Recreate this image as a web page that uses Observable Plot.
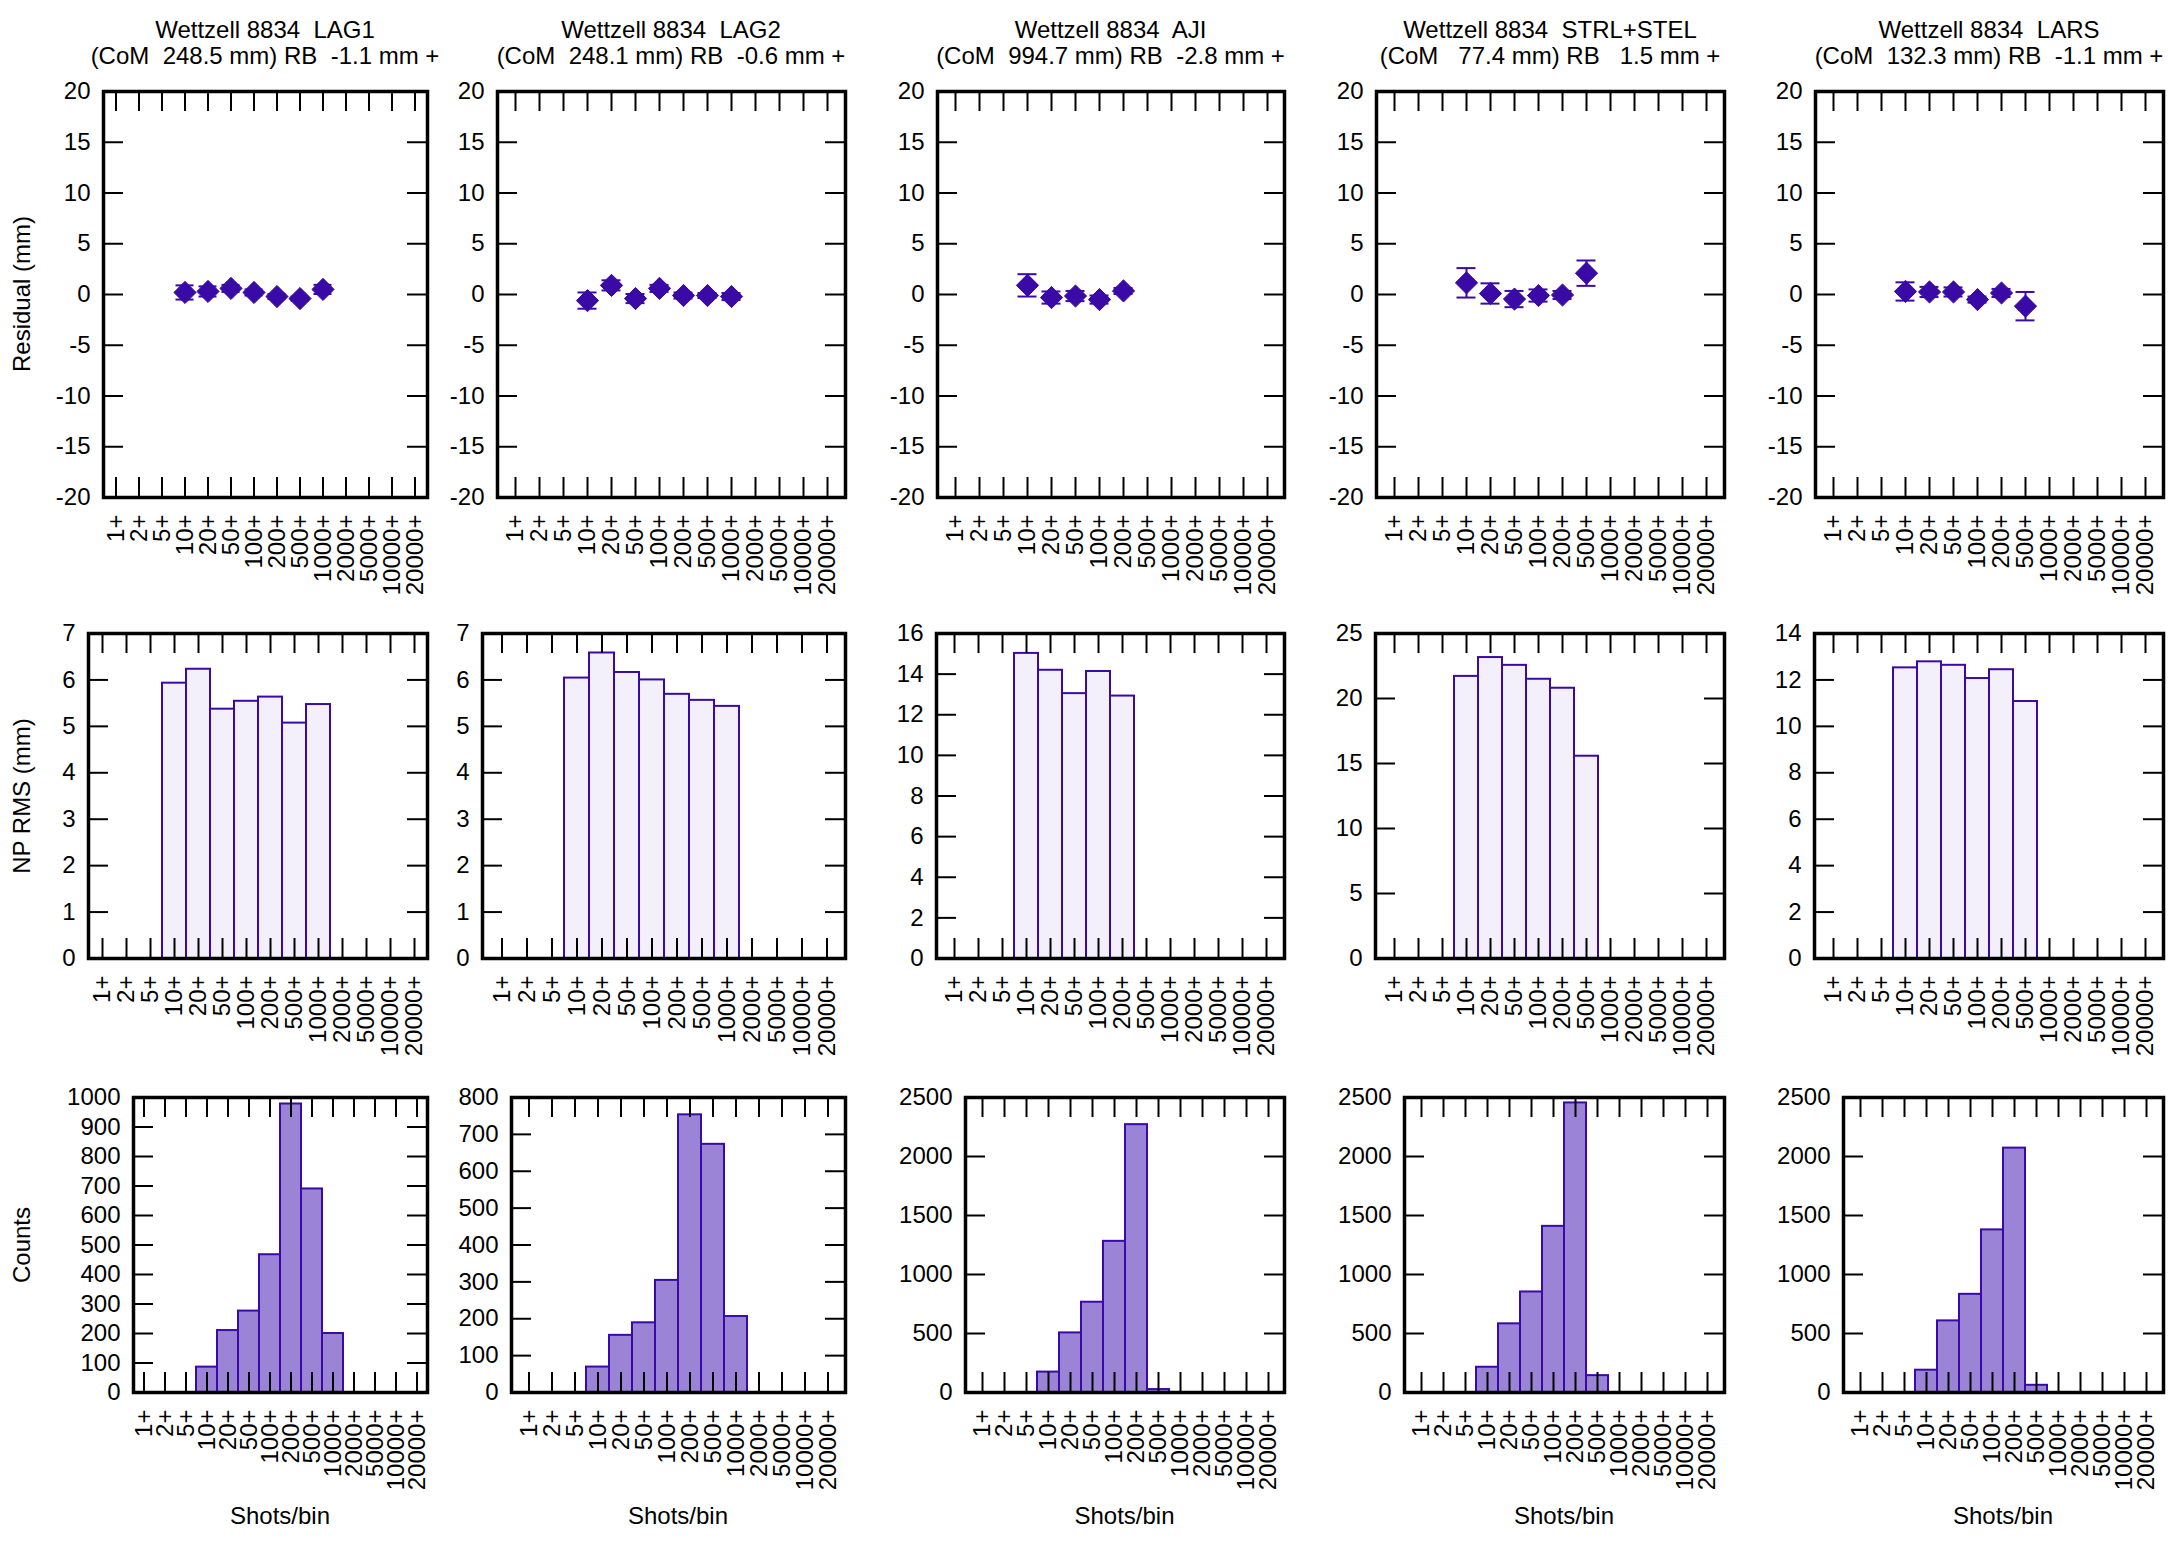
<!DOCTYPE html>
<html><head><meta charset="utf-8">
<script src="https://cdn.jsdelivr.net/npm/d3@7"></script>
<script src="https://cdn.jsdelivr.net/npm/@observablehq/plot@0.6"></script>
<style>
body{margin:0;background:#fff;}
#root{position:relative;width:2168px;height:1545px;overflow:hidden;background:#fff;font-family:"Liberation Sans",Arial,sans-serif;}
.txt{position:absolute;white-space:pre;font-size:24px;color:#000;line-height:1;z-index:5;}
svg{position:absolute;overflow:visible;}
</style></head><body><div id="root"></div><script>
// ---------- data ----------
const bins = ["1+","2+","5+","10+","20+","50+","100+","200+","500+","1000+","2000+","5000+","10000+","20000+"];
const stations = ["LAG1","LAG2","AJI","STRL+STEL","LARS"];
const comMM = [248.5, 248.1, 994.7, 77.4, 132.3];
const rangeBiasMM = [-1.1, -0.6, -2.8, 1.5, -1.1];

// residual (mm) and its error, for bins starting at "10+"
const residualLAG1 = [0.2, 0.3, 0.6, 0.2, -0.2, -0.4, 0.5];
const errorLAG1    = [0.7, 0.5, 0.35, 0.3, 0.25, 0.2, 0.45];
const residualLAG2 = [-0.6, 0.9, -0.4, 0.6, -0.1, -0.1, -0.2];
const errorLAG2    = [0.8, 0.5, 0.45, 0.35, 0.3, 0.25, 0.35];
const residualAJI  = [0.9, -0.3, -0.15, -0.5, 0.35];
const errorAJI     = [1.1, 0.6, 0.5, 0.4, 0.3];
const residualSTRL = [1.15, 0.1, -0.45, -0.1, -0.05, 2.1];
const errorSTRL    = [1.45, 1.0, 0.8, 0.6, 0.4, 1.25];
const residualLARS = [0.3, 0.25, 0.25, -0.5, 0.15, -1.15];
const errorLARS    = [0.9, 0.5, 0.45, 0.3, 0.4, 1.4];

// normal point RMS (mm), bins starting at "10+"
const rmsLAG1 = [5.93, 6.23, 5.37, 5.54, 5.63, 5.07, 5.47];
const rmsLAG2 = [6.04, 6.58, 6.16, 6.0, 5.69, 5.56, 5.43];
const rmsAJI  = [15.02, 14.19, 13.04, 14.13, 12.92];
const rmsSTRL = [21.7, 23.15, 22.55, 21.48, 20.79, 15.56];
const rmsLARS = [12.52, 12.78, 12.63, 12.06, 12.44, 11.07];

// counts per bin, bins starting at "10+"
const countLAG1 = [86, 210, 276, 467, 978, 690, 200];
const countLAG2 = [69, 155, 189, 304, 753, 673, 206];
const countAJI  = [173, 505, 765, 1281, 2270, 25];
const countSTRL = [214, 582, 852, 1408, 2454, 143];
const countLARS = [189, 607, 832, 1378, 2071, 61];

// y axis tick values
const residualTicks = [-20, -15, -10, -5, 0, 5, 10, 15, 20];
const rmsMax  = [7, 7, 16, 25, 14];
const rmsStep = [1, 1, 2, 5, 2];
const countMax  = [1000, 800, 2500, 2500, 2500];
const countStep = [100, 100, 500, 500, 500];

const residuals = [residualLAG1, residualLAG2, residualAJI, residualSTRL, residualLARS];
const errors = [errorLAG1, errorLAG2, errorAJI, errorSTRL, errorLARS];
const rmsAll = [rmsLAG1, rmsLAG2, rmsAJI, rmsSTRL, rmsLARS];
const countAll = [countLAG1, countLAG2, countAJI, countSTRL, countLARS];

// ---------- layout ----------
const frameRight = [427, 845, 1284, 1724, 2163];
const frameLeft = [
  [103, 497, 937, 1376, 1815],
  [88, 482, 936, 1375, 1814],
  [133, 511, 965, 1404, 1843]
];
const frameTop = [91, 633, 1097];
const frameBottom = [497, 958, 1392];

const PURPLE = "#3a0aa6";
const root = document.getElementById("root");
const FONT = "'Liberation Sans', Arial, Helvetica, sans-serif";
const firstBin = bins.indexOf("10+");

function txt(s, x, y, rotate) {
  const d = document.createElement("div");
  d.className = "txt";
  d.textContent = s;
  d.style.left = x + "px";
  d.style.top = y + "px";
  d.style.transform = "translate(-50%,-50%)" + (rotate ? " rotate(-90deg)" : "");
  root.appendChild(d);
}

function panel(row, col, yDomain, yTicks, dataMarks) {
  const fl = frameLeft[row][col], fr = frameRight[col], ft = frameTop[row], fb = frameBottom[row];
  const mL = 80, mR = 12, mT = 16, mB = 110;
  const W = fr - fl, H = fb - ft;
  const svg = Plot.plot({
    width: W + mL + mR, height: H + mT + mB,
    marginLeft: mL, marginRight: mR, marginTop: mT, marginBottom: mB,
    style: {background: "transparent", fontSize: "24px", fontFamily: FONT, color: "black", overflow: "visible"},
    x: {type: "band", domain: bins, padding: 0},
    y: {domain: yDomain},
    marks: [
      ...dataMarks,
      Plot.tickX(bins, {x: d => d, insetTop: H - 20, stroke: "black", strokeWidth: 2}),
      Plot.tickX(bins, {x: d => d, insetBottom: H - 20, stroke: "black", strokeWidth: 2}),
      Plot.tickY(yTicks, {y: d => d, insetRight: W - 20, stroke: "black", strokeWidth: 2}),
      Plot.tickY(yTicks, {y: d => d, insetLeft: W - 20, stroke: "black", strokeWidth: 2}),
      Plot.frame({stroke: "black", strokeWidth: 3.5}),
      Plot.axisX({tickRotate: -90, tickSize: 0, tickPadding: 17, label: null, fill: "black"}),
      Plot.axisY(yTicks, {tickSize: 0, tickPadding: 13, label: null, tickFormat: d => String(d), fill: "black"})
    ]
  });
  svg.style.left = (fl - mL) + "px";
  svg.style.top = (ft - mT) + "px";
  root.appendChild(svg);
}

function ticksTo(max, step) {
  const t = [];
  for (let v = 0; v <= max + 1e-9; v += step) t.push(v);
  return t;
}

stations.forEach((st, c) => {
  // row 1 residuals
  const resData = residuals[c].map((v, i) => ({bin: bins[firstBin + i], v, lo: v - errors[c][i], hi: v + errors[c][i]}));
  panel(0, c, [-20, 20], residualTicks, [
    Plot.ruleX(resData, {x: "bin", y1: "lo", y2: "hi", stroke: PURPLE, strokeWidth: 2}),
    Plot.tickY(resData, {x: "bin", y: "lo", stroke: PURPLE, strokeWidth: 2, insetLeft: 2.5, insetRight: 2.5}),
    Plot.tickY(resData, {x: "bin", y: "hi", stroke: PURPLE, strokeWidth: 2, insetLeft: 2.5, insetRight: 2.5}),
    Plot.dot(resData, {x: "bin", y: "v", symbol: "diamond2", r: 10, fill: PURPLE, stroke: PURPLE, strokeWidth: 1})
  ]);
  // row 2 RMS
  const rmsData = rmsAll[c].map((v, i) => ({bin: bins[firstBin + i], v}));
  panel(1, c, [0, rmsMax[c]], ticksTo(rmsMax[c], rmsStep[c]), [
    Plot.barY(rmsData, {x: "bin", y: "v", fill: "#f3f0fc", stroke: PURPLE, strokeWidth: 2})
  ]);
  // row 3 counts
  const cntData = countAll[c].map((v, i) => ({bin: bins[firstBin + i], v}));
  panel(2, c, [0, countMax[c]], ticksTo(countMax[c], countStep[c]), [
    Plot.barY(cntData, {x: "bin", y: "v", fill: "#9b84d6", stroke: PURPLE, strokeWidth: 2})
  ]);

  // titles
  const cx = (frameLeft[0][c] + frameRight[c]) / 2;
  txt("Wettzell 8834  " + st, cx, 30);
  const com = comMM[c].toFixed(1).padStart(6, " ");
  const rb = rangeBiasMM[c].toFixed(1).padStart(5, " ");
  txt("(CoM " + com + " mm) RB " + rb + " mm +", cx, 56);
  // x label
  txt("Shots/bin", (frameLeft[2][c] + frameRight[c]) / 2, 1516);
});

txt("Residual (mm)", 22, (frameTop[0] + frameBottom[0]) / 2, true);
txt("NP RMS (mm)", 22, (frameTop[1] + frameBottom[1]) / 2, true);
txt("Counts", 22, (frameTop[2] + frameBottom[2]) / 2, true);
</script></body></html>
